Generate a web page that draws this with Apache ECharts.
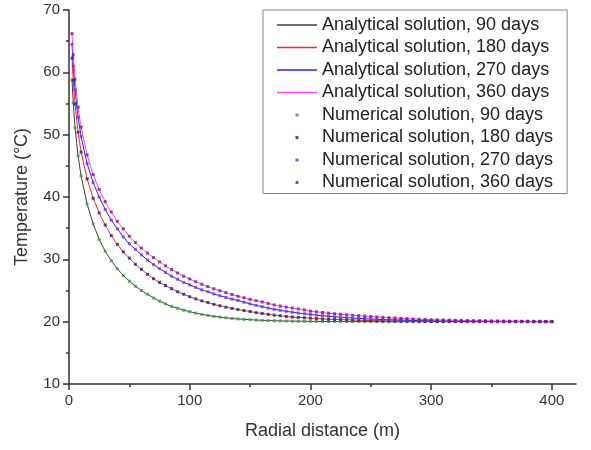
<!DOCTYPE html>
<html>
<head>
<meta charset="utf-8">
<title>Temperature vs radial distance</title>
<script src="https://cdn.jsdelivr.net/npm/echarts@6/dist/echarts.min.js"></script>
<style>
  html, body { margin: 0; padding: 0; background: #fff; }
  #chart { width: 591px; height: 450px; }
</style>
</head>
<body>
<div id="chart"></div>
<script>
// radial distance (m)
var distance = [
  2.5, 3.5, 5, 7.5,
  10, 15, 20, 25, 30, 35, 40, 45, 50, 55,
  60, 65, 70, 75, 80, 85, 90, 95, 100, 105,
  110, 115, 120, 125, 130, 135, 140, 145, 150, 155,
  160, 165, 170, 175, 180, 185, 190, 195, 200, 205,
  210, 215, 220, 225, 230, 235, 240, 245, 250, 255,
  260, 265, 270, 275, 280, 285, 290, 295, 300, 305,
  310, 315, 320, 325, 330, 335, 340, 345, 350, 355,
  360, 365, 370, 375, 380, 385, 390, 395, 400
];

// temperature (°C)
var temp90 = [
  58.8, 55.1, 51.1, 46.6,
  43.4, 38.9, 35.7, 33.2, 31.3, 29.8, 28.5, 27.4, 26.5, 25.7,
  25.0, 24.4, 23.8, 23.3, 22.85, 22.45, 22.15, 21.85, 21.6, 21.37,
  21.17, 21.01, 20.85, 20.73, 20.62, 20.52, 20.44, 20.37, 20.31, 20.26,
  20.22, 20.18, 20.15, 20.12, 20.1, 20.08, 20.07, 20.06, 20.05, 20.04,
  20.03, 20.02, 20.02, 20.02, 20.01, 20.01, 20.01, 20.01, 20.01, 20.0,
  20.0, 20.0, 20.0, 20.0, 20.0, 20.0, 20.0, 20.0, 20.0, 20.0,
  20.0, 20.0, 20.0, 20.0, 20.0, 20.0, 20.0, 20.0, 20.0, 20.0,
  20.0, 20.0, 20.0, 20.0, 20.0, 20.0, 20.0, 20.0, 20.0
];
var temp180 = [
  62.3, 58.7, 54.9, 50.4,
  47.2, 42.9, 39.8, 37.45, 35.5, 33.8, 32.4, 31.2, 30.2, 29.2,
  28.4, 27.6, 26.9, 26.3, 25.8, 25.3, 24.8, 24.4, 24.0, 23.66,
  23.33, 23.07, 22.78, 22.55, 22.32, 22.13, 21.94, 21.78, 21.63, 21.45,
  21.32, 21.18, 21.05, 20.94, 20.83, 20.75, 20.68, 20.62, 20.57, 20.5,
  20.43, 20.39, 20.36, 20.33, 20.3, 20.27, 20.24, 20.2, 20.18, 20.15,
  20.13, 20.11, 20.1, 20.09, 20.08, 20.07, 20.06, 20.05, 20.04, 20.04,
  20.03, 20.03, 20.03, 20.02, 20.02, 20.02, 20.02, 20.02, 20.01, 20.01,
  20.01, 20.01, 20.01, 20.01, 20.01, 20.0, 20.0, 20.0, 20.0
];
var temp270 = [
  64.5, 61.0, 57.2, 52.8,
  49.7, 45.35, 42.3, 40.0, 38.0, 36.3, 34.9, 33.6, 32.5, 31.6,
  30.7, 29.9, 29.15, 28.5, 27.9, 27.3, 26.8, 26.3, 25.9, 25.5,
  25.1, 24.8, 24.45, 24.16, 23.88, 23.62, 23.4, 23.12, 22.86, 22.62,
  22.39, 22.19, 21.98, 21.81, 21.66, 21.52, 21.38, 21.27, 21.15, 21.04,
  20.95, 20.87, 20.78, 20.71, 20.65, 20.59, 20.53, 20.48, 20.43, 20.38,
  20.34, 20.31, 20.28, 20.25, 20.22, 20.19, 20.17, 20.15, 20.13, 20.12,
  20.11, 20.1, 20.09, 20.07, 20.07, 20.06, 20.05, 20.05, 20.04, 20.04,
  20.03, 20.03, 20.03, 20.02, 20.02, 20.02, 20.02, 20.01, 20.01
];
var temp360 = [
  66.2, 62.8, 58.9, 54.4,
  51.2, 46.75, 43.6, 41.2, 39.25, 37.6, 36.1, 34.9, 33.7, 32.7,
  31.8, 31.0, 30.27, 29.58, 28.95, 28.35, 27.82, 27.3, 26.85, 26.4,
  26.0, 25.63, 25.27, 24.96, 24.67, 24.36, 24.08, 23.83, 23.58, 23.36,
  23.16, 22.92, 22.69, 22.5, 22.34, 22.19, 22.04, 21.88, 21.69, 21.58,
  21.47, 21.36, 21.27, 21.19, 21.11, 21.03, 20.95, 20.88, 20.83, 20.76,
  20.7, 20.64, 20.58, 20.53, 20.48, 20.43, 20.39, 20.36, 20.32, 20.29,
  20.26, 20.24, 20.22, 20.2, 20.18, 20.16, 20.15, 20.14, 20.12, 20.11,
  20.1, 20.09, 20.08, 20.07, 20.07, 20.06, 20.06, 20.05, 20.05
];

var xMajorTicks = [0, 100, 200, 300, 400];
var xMinorTicks = [50, 150, 250, 350];

var lineNames = [
  "Analytical solution, 90 days",
  "Analytical solution, 180 days",
  "Analytical solution, 270 days",
  "Analytical solution, 360 days"
];
var dotNames = [
  "Numerical solution, 90 days",
  "Numerical solution, 180 days",
  "Numerical solution, 270 days",
  "Numerical solution, 360 days"
];
var lineColors = ["#404040", "#ff2424", "#2424ff", "#ff40ff"];
var dotColors = ["#3c9c3c", "#20207a", "#7a30e0", "#7a1c70"];
var temps = [temp90, temp180, temp270, temp360];

function pairs(ys) {
  return distance.map(function (x, i) { return [x, ys[i]]; });
}

// legend icons drawn inside a 40x14 box (tiny corner specks keep the box size)
var corners = "M0,0L0.01,0L0.01,0.01ZM40,14L39.99,14L39.99,13.99Z";
var dotIcon = "path://" + corners + "M18.5,5.5L21.5,5.5L21.5,8.5L18.5,8.5Z";
var lineIcon = "path://" + corners + "M0,6.3L40,6.3L40,7.7L0,7.7Z";

var series = [];
temps.forEach(function (t, i) {
  series.push({
    name: lineNames[i],
    type: "line",
    symbol: "none",
    data: pairs(t),
    color: lineColors[i],
    lineStyle: { color: lineColors[i], width: 1 },
    itemStyle: { color: lineColors[i] },
    z: 2
  });
});
temps.forEach(function (t, i) {
  series.push({
    name: dotNames[i],
    type: "scatter",
    symbol: "rect",
    symbolSize: 3,
    data: pairs(t),
    itemStyle: { color: dotColors[i] },
    z: 3
  });
});

var legendData = lineNames.map(function (n, i) {
  return {
    name: n,
    icon: lineIcon,
    itemStyle: { color: lineColors[i], borderWidth: 0 },
    lineStyle: { color: lineColors[i], width: 0 }
  };
}).concat(dotNames.map(function (n, i) {
  return { name: n, icon: dotIcon, itemStyle: { color: dotColors[i], borderWidth: 0 } };
}));

var axisFont = "Liberation Sans, Arial, sans-serif";

var chart = echarts.init(document.getElementById("chart"));
chart.setOption({
  animation: false,
  backgroundColor: "#fff",
  textStyle: { fontFamily: axisFont },
  grid: { left: 69, right: 15, top: 10, bottom: 66 },
  legend: {
    orient: "vertical",
    left: 263,
    top: 10,
    padding: [6, 14, 2, 14],
    itemWidth: 40,
    itemHeight: 14,
    itemGap: 4.5,
    borderColor: "#888",
    borderWidth: 1,
    textStyle: { fontSize: 18, color: "#222", fontFamily: axisFont },
    data: legendData
  },
  xAxis: [
    {
      type: "value",
      min: 0,
      max: 420,
      name: "Radial distance (m)",
      nameLocation: "middle",
      nameGap: 38,
      nameTextStyle: { fontSize: 18, color: "#333" },
      axisLine: { lineStyle: { color: "#333", width: 1.5 } },
      axisTick: { customValues: xMajorTicks, length: 6, lineStyle: { color: "#333", width: 1.5 } },
      axisLabel: { customValues: xMajorTicks, fontSize: 15, color: "#333", margin: 9 },
      splitLine: { show: false }
    },
    {
      type: "value",
      min: 0,
      max: 420,
      position: "bottom",
      axisLine: { show: false },
      axisTick: { customValues: xMinorTicks, length: 3, lineStyle: { color: "#333", width: 1.5 } },
      axisLabel: { show: false },
      splitLine: { show: false }
    }
  ],
  yAxis: {
    type: "value",
    min: 10,
    max: 70,
    interval: 10,
    name: "Temperature (°C)",
    nameLocation: "middle",
    nameGap: 38,
    nameTextStyle: { fontSize: 18, color: "#333" },
    axisLine: { show: true, lineStyle: { color: "#333", width: 1.5 } },
    axisTick: { show: true, length: 6, lineStyle: { color: "#333", width: 1.5 } },
    minorTick: { show: true, splitNumber: 2, length: 3, lineStyle: { color: "#333", width: 1.5 } },
    axisLabel: { fontSize: 15, color: "#333", margin: 9 },
    splitLine: { show: false }
  },
  series: series
});
</script>
</body>
</html>
